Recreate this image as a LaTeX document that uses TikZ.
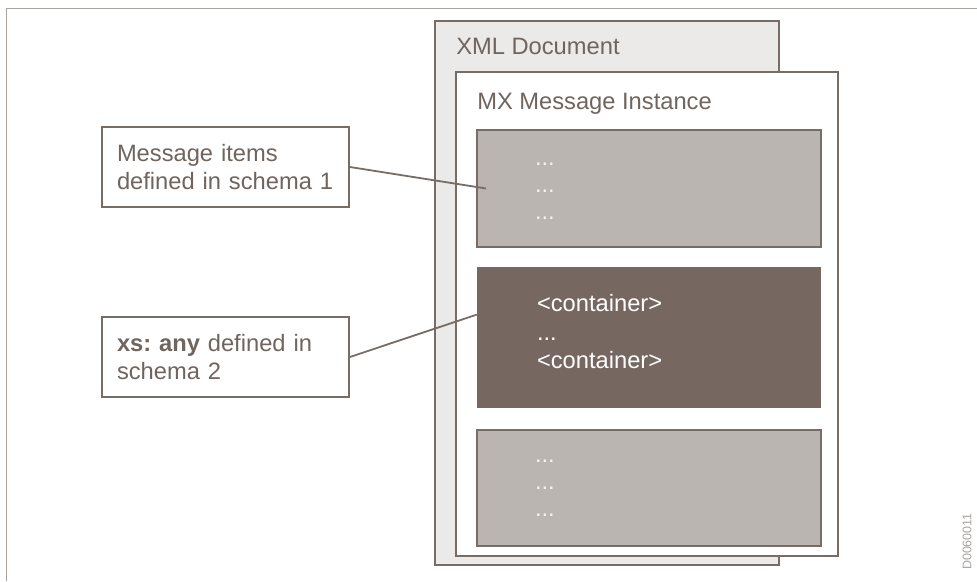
\documentclass[tikz,border=0pt]{standalone}
\usepackage{fontspec}
\setmainfont{Liberation Sans}
\usetikzlibrary{positioning}
\frenchspacing

\definecolor{edgebrown}{RGB}{120,109,102}
\definecolor{framegray}{RGB}{168,163,159}
\definecolor{docfill}{RGB}{236,234,232}
\definecolor{itemfill}{RGB}{186,181,177}
\definecolor{contfill}{RGB}{118,104,96}
\definecolor{textbrown}{RGB}{112,101,94}
\definecolor{dotwhite}{RGB}{245,243,241}

\begin{document}
\begin{tikzpicture}[
    x=1pt, y=-1pt,
    node distance=19pt,
    font=\fontsize{23.7}{28}\selectfont,
    box/.style={
		rectangle,
		draw=edgebrown,
		line width=1.8pt,
		inner sep=0pt
	},
	doc/.style={
		box,
		fill=docfill,
		minimum width=344pt,
		minimum height=544pt
	},
	msg/.style={
		box,
		fill=white,
		minimum width=382pt,
		minimum height=484pt
	},
	items/.style={
		box,
		fill=itemfill,
		text=dotwhite,
		align=left,
		text width=228pt,
		inner xsep=58pt,
		font=\fontsize{23.7}{27}\selectfont
	},
	cont/.style={
		rectangle,
		fill=contfill,
		text=white,
		align=left,
		text width=224pt,
		inner xsep=60pt,
		inner ysep=0pt,
		text depth=69pt,
		font=\fontsize{23.7}{28.5}\selectfont
	},
	note/.style={
		box,
		fill=white,
		text=textbrown,
		align=left,
		text width=217pt,
		inner xsep=15pt,
		minimum height=80pt
	},
	title/.style={
		text=textbrown,
		inner sep=0pt,
		anchor=base west
	},
	conn/.style={
		draw=edgebrown,
		line width=1.8pt
	}
  ]
  \useasboundingbox (0,0) rectangle (977,581);
  % frame of the figure
  \draw[framegray, line width=1.8pt] (977,8.5) -| (6.5,581);

  % the document and the message
  \node [doc] (xmldoc) at (607,293) {};
  \node [title] (xmltitle) at ([xshift=22pt, yshift=-34pt]xmldoc.north west) {XML Document};
  \node [msg] (mx) at (647,314) {};
  \node [title] (mxtitle) at ([xshift=22pt, yshift=-38pt]mx.north west) {MX Message Instance};

  % message items
  \node [items, minimum height=117pt, text height=8pt, anchor=north west] (items1)
    at ([xshift=21pt, yshift=-58pt]mx.north west) {...\\...\\...};
  \node [cont, minimum height=141pt, below=19pt of items1] (container)
 {%
  \textless container\textgreater\\
  ...\\
  \textless container\textgreater
 };
  \node [items, minimum height=116pt, below=21pt of container] (items2) {...\\...\\...};

  % callouts
  \node [note] (note1) at (225.5,167) {Message items\\defined in schema 1};
  \node [note] (note2) at (225.5,357) {\textbf{xs: any} defined in\\schema 2};

  \draw [conn] (note1.east) -- ([xshift=10pt]items1.west);
  \draw [conn] (note2.east) -- ([yshift=23pt]container.west);

  \node [font=\fontsize{12.5}{12.5}\selectfont, text=framegray, rotate=90, anchor=east, inner sep=0pt] (figid)
    at (967,513) {D0060011};
\end{tikzpicture}
\end{document}
